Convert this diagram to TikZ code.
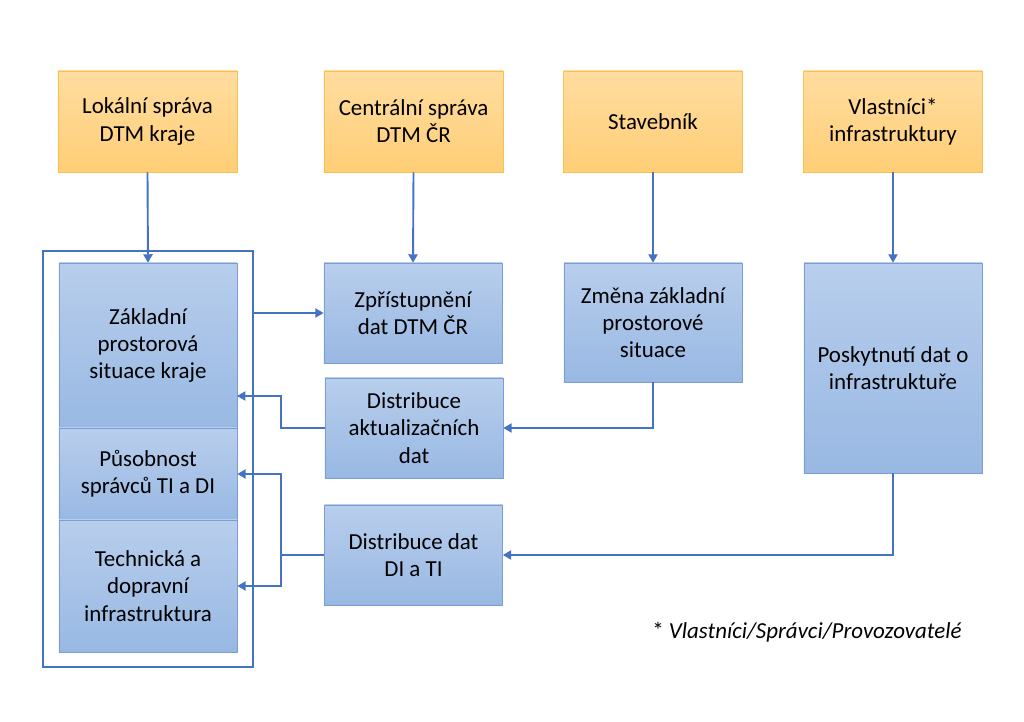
\documentclass[tikz,border=0pt]{standalone}
\usepackage{fontspec}
\setmainfont{Carlito}
\usetikzlibrary{arrows.meta}
\definecolor{goldtop}{RGB}{255,221,160}
\definecolor{goldbot}{RGB}{255,206,118}
\definecolor{goldline}{RGB}{246,193,80}
\definecolor{bluetop}{RGB}{184,206,236}
\definecolor{bluebot}{RGB}{152,184,227}
\definecolor{blueline}{RGB}{122,158,212}
\definecolor{arrowblue}{RGB}{68,114,196}

\begin{document}
\begin{tikzpicture}[x=0.025cm, y=-0.025cm,
  font=\fontsize{16.3}{19.3}\selectfont,
  rolebox/.style={draw=goldline, top color=goldtop, bottom color=goldbot, minimum width=4.475cm, minimum height=2.525cm, align=center, inner sep=0pt},
  taskbox/.style={draw=blueline, top color=bluetop, bottom color=bluebot, minimum width=4.45cm, align=center, inner sep=0pt},
  arr/.style={draw=arrowblue, line width=1.35pt, -{Triangle[length=6pt,width=6.5pt]}}]
  \useasboundingbox (0,0) rectangle (1024,722);

  % Roles on top
  \node[rolebox] (lok) at (147.5,121.5) {Lokální správa\\DTM kraje};
  \node[rolebox] (cen) at (413.5,121.5) {Centrální správa\\DTM ČR};
  \node[rolebox] (stav) at (653,121.5) {Stavebník};
  \node[rolebox] (vlast) at (893,121.5) {Vlastníci*\\infrastruktury};

  % Regional DTM (frame with three parts)
  \node[draw=arrowblue, line width=1.35pt, minimum width=5.25cm, minimum height=10.4cm] (ram) at (148,459) {};
  \node[taskbox, minimum height=4.125cm] (zakl) at (148,345.5) {Základní\\prostorová\\situace kraje};
  \node[taskbox, minimum height=2.3cm] (pusob) at (148,474) {Působnost\\správců TI a DI};
  \node[taskbox, minimum height=3.3cm] (tech) at (148,586) {Technická a\\dopravní\\infrastruktura};

  % Processes
  \node[taskbox, minimum height=2.5cm] (zpr) at (413,313) {Zpřístupnění\\dat DTM ČR};
  \node[taskbox, minimum height=2.5cm] (akt) at (414,428) {Distribuce\\aktualizačních\\dat};
  \node[taskbox, minimum height=2.5cm] (dat) at (413.5,555) {Distribuce dat\\DI a TI};
  \node[taskbox, minimum height=2.975cm] (zmena) at (653,322.5) {Změna základní\\prostorové\\situace};
  \node[taskbox, minimum height=5.25cm] (posk) at (893,368) {Poskytnutí dat o\\infrastruktuře};

  % Footnote
  \node[anchor=west, inner sep=0pt] (pozn) at (652,632) {* \itshape Vlastníci/Správci/Provozovatelé};

  % Connectors
  \coordinate (a1) at (281,428);
  \coordinate (d1) at (281,555);
  \coordinate (zin) at (237,396);
  \draw[arr] (lok.south) -- (zakl.north);
  \draw[arr] (cen.south) -- (zpr.north);
  \draw[arr] (stav.south) -- (zmena.north);
  \draw[arr] (vlast.south) -- (posk.north);
  \draw[arr] (ram.east |- zpr.west) -- (zpr.west);
  \draw[arr] (zmena.south) |- (akt.east);
  \draw[arr] (posk.south) |- (dat.east);
  \draw[arr] (akt.west) -- (a1) |- (zin);
  \draw[arr] (dat.west) -- (d1) |- (pusob.east);
  \draw[arr] (d1) |- (tech.east);
\end{tikzpicture}
\end{document}
